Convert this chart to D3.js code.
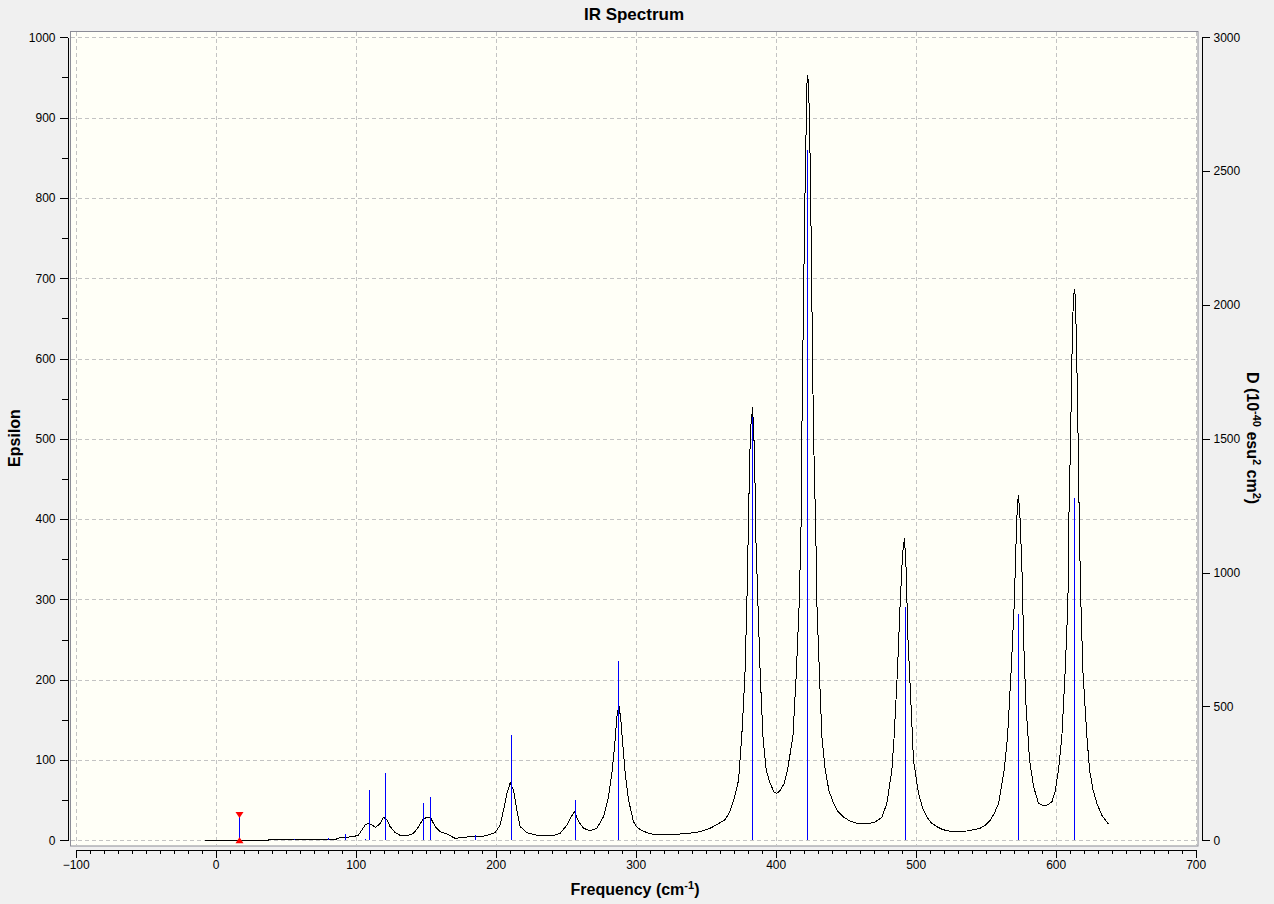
<!DOCTYPE html>
<html lang="en">
<head>
<meta charset="utf-8">
<title>IR Spectrum</title>
<script src="https://d3js.org/d3.v7.min.js"></script>
<style type="text/css">
  body { margin: 0; background: #f0f0f0; }
  svg { width: 1274px; height: 904px; display: block; }
  .tick text { font-family: "Liberation Sans", Arial, sans-serif; font-size: 12px; fill: #000; }
  .axtitle { font-family: "Liberation Sans", Arial, sans-serif; font-size: 16px; font-weight: bold; fill: #000; }
  .title { font-family: "Liberation Sans", Arial, sans-serif; font-size: 17px; font-weight: bold; fill: #000; }
</style>
</head>
<body>
<svg></svg>
<script type="text/javascript">

// tick labels
const freqTicks = [-100, 0, 100, 200, 300, 400, 500, 600, 700];
const epsTicks = [0, 100, 200, 300, 400, 500, 600, 700, 800, 900, 1000];
const dTicks = [0, 500, 1000, 1500, 2000, 2500, 3000];

// broadened spectrum (frequency cm-1, epsilon)
const curveFreq = [-7.5, 37.5, 37.7, 86.5, 86.6, 92.5, 98.4, 102, 104.4, 106.8, 108.7, 111.6, 114.4, 117.5, 119.9,
  122.3, 124.6, 128.2, 131.8, 136.6, 141.3, 144.9, 148, 150.8, 153.7, 156.8, 160.4, 165.1, 171, 177, 181.8, 192.5,
  199.6, 203.2, 205.6, 208, 210.4, 212.7, 215.1, 217.5, 222.3, 229, 236.6, 242, 246, 250.9, 254, 256.3, 259.2, 262.7, 267.5,
  272.3, 277, 280.6, 283, 284.9, 286.6, 288, 289.4, 290.9, 292.5, 294.9, 298.4, 301, 304.4, 310, 315.1, 322, 329.4, 338, 346, 353.2,
  360.4, 364, 367, 370, 373.5, 376, 378, 379.4, 381.3, 382, 383.5, 384.9, 385.8, 387.7, 389, 390.9, 393.2, 396, 398.9, 400.9,
  403.2, 406.1, 408.4, 412.3, 414.6, 416.8, 418.2, 419, 419.9, 420.6, 421.6, 422, 422.7, 423.4, 424.1, 424.9, 425.6, 426.3, 427,
  428.7, 429.4, 431.3, 433, 435.4, 438, 441.3, 444.5, 448.4, 453, 458, 464, 469.9, 473, 475.9, 479.4, 483, 484.6, 487, 488.9, 490.6, 492,
  493.2, 494.4, 496.6, 498.4, 502, 505, 508, 511, 515, 519, 523.4, 530, 536.6, 541, 546, 550, 553.2, 556, 559.2, 563.2, 565.6, 568.2, 570.4, 571.8,
  572.7, 573.4, 574.6, 575.9, 577, 578.7, 581.3, 584.2, 587.7, 590, 592.5, 595, 597.3, 599.5, 602, 604.4, 606.8, 608.7, 609.6,
  610.6, 611.3, 612, 612.7, 613.4, 614.1, 614.6, 615.4, 616.1, 617, 618, 619.4, 622.3, 624.2, 626.5, 629.4, 633, 637.7];
const curveEps = [0, 0, 1.2, 1.2, 2.5, 3.7, 4.5, 6.6, 12.8, 19, 21.2, 19, 16.2, 21.2, 28.6,
  25.3, 17, 9.5, 6.2, 5.4, 8.7, 17, 26, 28.6, 27.4, 17, 10.7, 7.8, 2.5, 3.7, 4.5, 5.4,
  9.5, 19, 37.7, 58.5, 71.7, 62.6, 37.7, 17, 9.5, 6.5, 5.4, 6.5, 8.7, 19, 29.4, 35.6, 23.2, 15, 12,
  15, 29.4, 54.3, 83.4, 116.6, 154, 168.5, 150, 116.6, 83.4, 50, 23.2, 16, 12, 8.5, 6.6, 6.8, 7.5, 8.7, 10.7, 15,
  22, 26, 35, 50, 75, 137, 204, 295, 464, 511, 539, 482, 378, 274, 204, 129, 87.5, 71, 60, 58.5,
  62, 71, 87.5, 129, 204, 295, 399, 565, 667, 775, 870, 933, 953, 943, 899, 815, 709, 603, 507,
  378, 295, 204, 129, 87.5, 62, 46, 36, 29, 24, 21, 20.5, 22, 25, 29, 46, 87.5, 129, 212, 295, 357, 376,
  337, 254, 171, 100, 58.5, 40, 29, 22, 17, 13.5, 11.6, 11, 11.6, 13, 15, 19, 25, 33, 46, 87.5, 129, 212, 295, 378,
  420, 430, 399, 337, 254, 171, 100, 67, 46, 44, 43, 45, 48, 60, 87.5, 129, 212, 295, 420,
  496, 573, 638, 677, 686, 675, 636, 567, 490, 378, 295, 212, 129, 87.5, 64, 46, 31, 20];

// stick spectrum (frequency cm-1, height on epsilon scale)
const stickFreq = [16.3, 55.6, 79.9, 92, 106.3, 109.2, 120.6, 148.4, 153.4, 184.9, 210.6, 256.3, 287.7,
  383.4, 422.7, 492, 573.4, 613.4];
const stickEps = [29, 2, 3, 7.8, 1.2, 62.6, 83.4, 46.8, 54.3, 6.6, 131, 50, 223, 527, 860, 290, 282, 426];

// selected mode (red markers)
const selFreq = 16.3;
const selEps = 29;

const svg = d3.select("svg");

const x = d3.scaleLinear().domain([-100, 700]).range([75.7, 1195.7]);
const yL = d3.scaleLinear().domain([0, 1000]).range([840.3, 37.3]);
const yR = d3.scaleLinear().domain([0, 3000]).range([840.3, 37.3]);

// plot box
svg.append("rect")
  .attr("x", 70.5).attr("y", 31.5)
  .attr("width", 1127.5).attr("height", 814.5)
  .attr("fill", "#fffff7")
  .attr("stroke", "#8b8c96")
  .attr("stroke-width", 1);

// grid
svg.append("g")
  .selectAll("line")
  .data(epsTicks)
  .join("line")
  .attr("x1", 71).attr("x2", 1197)
  .attr("y1", d => Math.round(yL(d)) + 0.5)
  .attr("y2", d => Math.round(yL(d)) + 0.5)
  .attr("stroke", "#c3c3c3")
  .attr("stroke-dasharray", "4,3");

svg.append("g")
  .selectAll("line")
  .data(freqTicks)
  .join("line")
  .attr("y1", 32).attr("y2", 845)
  .attr("x1", d => Math.round(x(d)) + 0.5)
  .attr("x2", d => Math.round(x(d)) + 0.5)
  .attr("stroke", "#c3c3c3")
  .attr("stroke-dasharray", "4,3");

const fmt = d3.format("d");

// left axis
svg.append("g")
  .attr("transform", "translate(67.5,0)")
  .call(d3.axisLeft(yL).tickValues(d3.range(50, 1000, 100)).tickSize(6).tickSizeOuter(0).tickFormat(""));
svg.append("g")
  .attr("transform", "translate(67.5,0)")
  .call(d3.axisLeft(yL).tickValues(epsTicks).tickSize(8).tickPadding(4).tickSizeOuter(0).tickFormat(fmt));

// right axis
svg.append("g")
  .attr("transform", "translate(1201.5,0)")
  .call(d3.axisRight(yR).tickValues(dTicks).tickSize(8).tickPadding(4).tickSizeOuter(0).tickFormat(fmt));

// bottom axis
svg.append("g")
  .attr("transform", "translate(0,849.5)")
  .call(d3.axisBottom(x).tickValues(d3.range(-90, 700, 10).filter(v => v % 100 !== 0)).tickSize(4).tickSizeOuter(0).tickFormat(""));
svg.append("g")
  .attr("transform", "translate(0,849.5)")
  .call(d3.axisBottom(x).tickValues(freqTicks).tickSize(8).tickPadding(3).tickSizeOuter(0).tickFormat(fmt));

svg.selectAll(".domain, .tick line").attr("stroke", "#000").attr("shape-rendering", "crispEdges");

// curve
const curvePts = curveFreq.map((f, i) => [f, curveEps[i]]);
svg.append("path")
  .datum(curvePts)
  .attr("fill", "none")
  .attr("stroke", "#000")
  .attr("stroke-width", 1)
  .attr("shape-rendering", "crispEdges")
  .attr("d", d3.line().x(d => x(d[0])).y(d => yL(d[1])));

// sticks
svg.append("g")
  .selectAll("line")
  .data(stickFreq)
  .join("line")
  .attr("x1", d => Math.round(x(d)) + 0.5)
  .attr("x2", d => Math.round(x(d)) + 0.5)
  .attr("y1", yL(0))
  .attr("y2", (d, i) => yL(stickEps[i]))
  .attr("stroke", "#0000ff")
  .attr("stroke-width", 1)
  .attr("shape-rendering", "crispEdges");

// selected mode markers
const sx = Math.round(x(selFreq)) + 0.5;
const sTop = yL(selEps);
const sBot = yL(0);
svg.append("path")
  .attr("d", `M${sx - 4},${sTop - 5} L${sx + 4},${sTop - 5} L${sx},${sTop + 1} Z`)
  .attr("fill", "#ff0000");
svg.append("path")
  .attr("d", `M${sx - 4},${sBot + 3} L${sx + 4},${sBot + 3} L${sx},${sBot - 3} Z`)
  .attr("fill", "#ff0000");

// titles
svg.append("text")
  .attr("class", "title")
  .attr("x", 634).attr("y", 20)
  .attr("text-anchor", "middle")
  .text("IR Spectrum");

const xt = svg.append("text")
  .attr("class", "axtitle")
  .attr("x", 635).attr("y", 895)
  .attr("text-anchor", "middle");
xt.append("tspan").text("Frequency (cm");
xt.append("tspan").attr("dy", -6).attr("font-size", 11).text("-1");
xt.append("tspan").attr("dy", 6).text(")");

svg.append("text")
  .attr("class", "axtitle")
  .attr("text-anchor", "middle")
  .attr("transform", "translate(19.5,438) rotate(-90)")
  .text("Epsilon");

const rt = svg.append("text")
  .attr("class", "axtitle")
  .attr("text-anchor", "middle")
  .attr("transform", "translate(1247,438) rotate(90)");
rt.append("tspan").text("D (10");
rt.append("tspan").attr("dy", -6).attr("font-size", 11).text("-40");
rt.append("tspan").attr("dy", 6).text(" esu");
rt.append("tspan").attr("dy", -6).attr("font-size", 11).text("2");
rt.append("tspan").attr("dy", 6).text(" cm");
rt.append("tspan").attr("dy", -6).attr("font-size", 11).text("2");
rt.append("tspan").attr("dy", 6).text(")");

</script>
</body>
</html>
